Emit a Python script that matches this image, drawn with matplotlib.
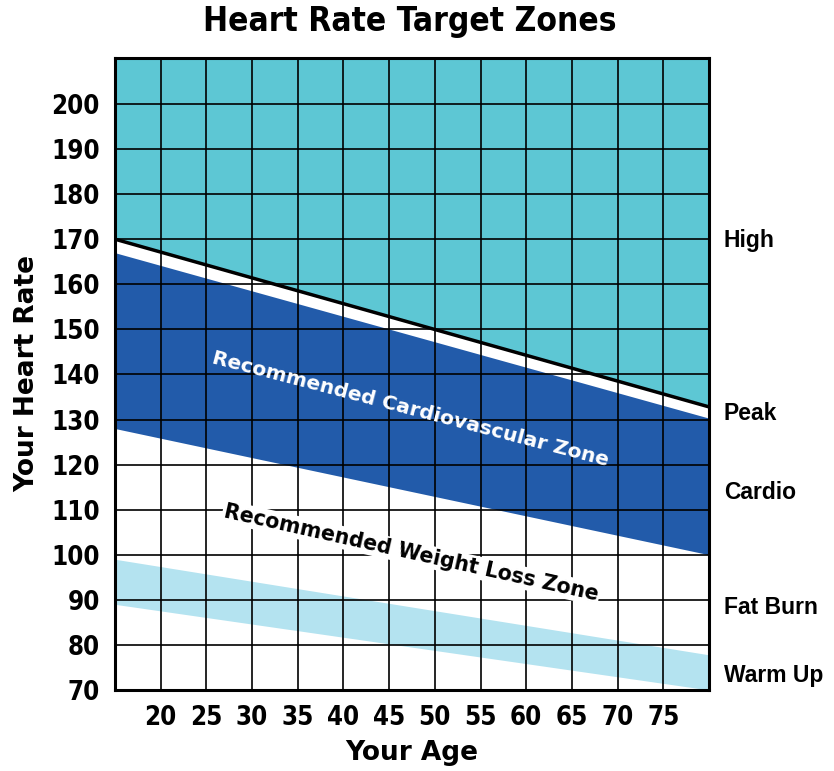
import matplotlib.pyplot as plt

# Zone boundaries at ages 15 and 80
ages = [15, 80]
high_line = [170, 132.8]
cardio_top = [167, 130.3]
cardio_bottom = [128, 100]
fatburn_top = [99, 77.8]
fatburn_bottom = [89, 70]

x_ticks = [20, 25, 30, 35, 40, 45, 50, 55, 60, 65, 70, 75]
y_ticks = [70, 80, 90, 100, 110, 120, 130, 140, 150, 160, 170, 180, 190, 200]
zone_names = ["High", "Peak", "Cardio", "Fat Burn", "Warm Up"]
zone_label_y = [169.7, 131.4, 113.7, 88.2, 73.2]

cond = "DejaVu Sans"
stretch = "condensed"
wide = ["Liberation Sans", "DejaVu Sans"]

fig = plt.figure(figsize=(8.34, 7.71), dpi=100)
ax = fig.add_axes([0.1379, 0.1051, 0.7122, 0.8197])

top = 210.2
ax.fill_between(ages, high_line, [top, top], color="#5DC7D4", lw=0, zorder=1)
ax.fill_between(ages, cardio_bottom, cardio_top, color="#225BAA", lw=0, zorder=1)
ax.fill_between(ages, fatburn_bottom, fatburn_top, color="#B4E3F0", lw=0, zorder=1)
ax.plot(ages, high_line, color="black", lw=2.5, zorder=3, solid_capstyle="butt")

ax.set_xlim(15, 80)
ax.set_ylim(70, top)
ax.set_xticks(x_ticks)
ax.set_yticks(y_ticks)
ax.grid(True, color="black", lw=1.2, zorder=2)
ax.set_axisbelow(False)
ax.tick_params(length=0, pad=11)
for lab in ax.get_xticklabels() + ax.get_yticklabels():
    lab.set_family(cond)
    lab.set_stretch(stretch)
    lab.set_fontweight("bold")
    lab.set_fontsize(18.5)
for s in ax.spines.values():
    s.set_linewidth(2.2)
    s.set_zorder(4)

ax.set_xlabel("Your Age", family="DejaVu Sans", fontweight="bold", fontsize=19, labelpad=6)
ax.set_ylabel("Your Heart Rate", family="DejaVu Sans", fontweight="bold", fontsize=19, labelpad=8)
fig.text(0.491, 0.972, "Heart Rate Target Zones", family=cond, stretch=stretch,
         fontweight="bold", fontsize=24, ha="center", va="center")

for name, yv in zip(zone_names, zone_label_y):
    ax.text(1.025, yv, name, transform=ax.get_yaxis_transform(), family=wide,
            fontweight="bold", fontsize=16.5, ha="left", va="center")

ax.text(47.3, 132.3, "Recommended Cardiovascular Zone", color="white", family="DejaVu Sans",
        fontweight="bold", fontsize=14.6, rotation=-14.6, rotation_mode="anchor",
        ha="center", va="center", zorder=5)
ax.text(47.4, 100.4, "Recommended Weight Loss Zone", color="black", family="DejaVu Sans",
        fontweight="bold", fontsize=14.8, rotation=-12.6, rotation_mode="anchor",
        ha="center", va="center", zorder=5,
        bbox=dict(facecolor="white", edgecolor="none", pad=1))

fig.savefig("out.png", dpi=100)
